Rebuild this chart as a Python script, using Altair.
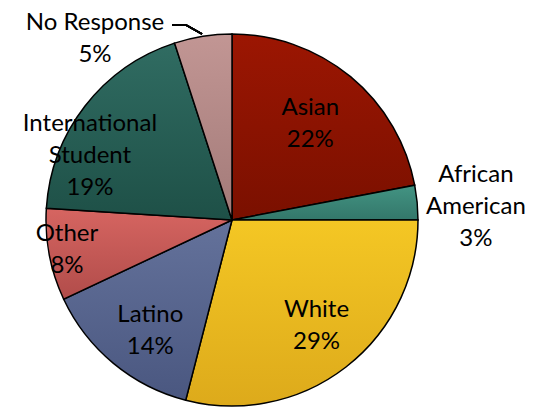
import math
import altair as alt
import pandas as pd

categories = ["Asian", "African American", "White", "Latino", "Other",
              "International Student", "No Response"]
values = [22, 3, 29, 14, 8, 19, 5]
labels = ["Asian\n22%", "African\nAmerican\n3%", "White\n29%", "Latino\n14%",
          "Other\n8%", "International\nStudent\n19%", "No Response\n5%"]
top_colors = ["#9C1602", "#439483", "#F4C724", "#64729B", "#D66561", "#306C62", "#C29694"]
bottom_colors = ["#7A1000", "#33776A", "#DDAA1B", "#4A5780", "#B14C4A", "#1E5047", "#A27A78"]

df = pd.DataFrame({"category": categories, "value": values, "label": labels,
                   "order": list(range(len(categories)))})

CX, CY = 224, 212
R = 186
LH = 32

base = alt.Chart(df).transform_window(
    end="sum(value)", sort=[alt.SortField("order")], frame=[None, 0]
).transform_calculate(
    start="datum.end - datum.value",
    mid="datum.end - datum.value / 2",
    lines="split(datum.label, '\\n')",
)

theta_scale = alt.Scale(domain=[0, 100], range=[0, 2 * math.pi])

# label placement: (radius, dx, dy) for the block centre
label_pos = {
    "Asian": (126, -2, 1),
    "African American": (245, 0, 10),
    "White": (133, 3, 1),
    "Latino": (136, 5, 6),
    "Other": (168, 0, -1),
    "International Student": (157, -18, 32),
    "No Response": (230, -101, 46),
}

layers = []
for cat, c1, c2 in zip(categories, top_colors, bottom_colors):
    grad = alt.LinearGradient(
        gradient="linear", x1=0, y1=0, x2=0, y2=1,
        stops=[alt.GradientStop(offset=0, color=c1),
               alt.GradientStop(offset=1, color=c2)],
    )
    layers.append(
        base.transform_filter(alt.datum.category == cat)
        .mark_arc(outerRadius=R, stroke="#000000", strokeWidth=1.5, fill=grad)
        .encode(
            theta=alt.Theta("start:Q", scale=theta_scale),
            theta2="end:Q",
            x=alt.value(CX),
            y=alt.value(CY),
        )
    )

for cat, lab in zip(categories, labels):
    r, dx, dy = label_pos[cat]
    n = lab.count("\n") + 1
    layers.append(
        base.transform_filter(alt.datum.category == cat)
        .mark_text(font="Lato", fontSize=24, lineHeight=LH, color="#000000",
                   align="center", baseline="middle", dx=dx,
                   dy=dy - (n - 1) * LH / 2)
        .encode(
            theta=alt.Theta("mid:Q", scale=theta_scale),
            radius=alt.value(r),
            x=alt.value(CX),
            y=alt.value(CY),
            text="lines:N",
        )
    )

# leader line for "No Response"
layers.append(
    alt.Chart(df).mark_rule(color="#000000", strokeWidth=1.5).encode(
        x=alt.value(164), x2=alt.value(178), y=alt.value(17), y2=alt.value(17)
    )
)
layers.append(
    alt.Chart(df).mark_rule(color="#000000", strokeWidth=1.5).encode(
        x=alt.value(178), x2=alt.value(194), y=alt.value(17), y2=alt.value(26)
    )
)

chart = alt.layer(*layers).properties(
    width=522, height=400, padding=0, autosize="none"
).configure_view(stroke=None)

chart.save("out.html", embed_options={"renderer": "svg", "actions": False})
